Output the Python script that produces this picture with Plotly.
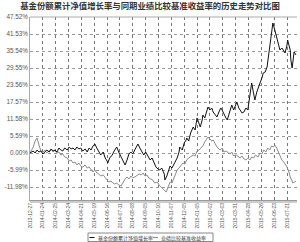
import plotly.graph_objects as go

title = "基金份额累计净值增长率与同期业绩比较基准收益率的历史走势对比图"
fund_name = "基金份额累计净值增长率"
bench_name = "业绩比较基准收益率"

tick_days = [0, 20, 40, 60, 80, 100, 120, 140, 160, 180, 200, 220, 240, 260, 280, 300, 320, 340, 360, 380, 400]
tick_dates = ["2013-12-27", "2014-01-24", "2014-02-25", "2014-03-24", "2014-04-21", "2014-05-19",
              "2014-06-16", "2014-07-11", "2014-08-08", "2014-09-05", "2014-10-10", "2014-11-07",
              "2014-12-05", "2015-01-05", "2015-02-02", "2015-03-03", "2015-03-31", "2015-04-28",
              "2015-05-26", "2015-06-23", "2015-07-21"]

y_tickvals = [-11.98, -5.99, 0.0, 5.99, 11.98, 17.97, 23.96, 29.95, 35.94, 41.93, 47.92]
y_ticktext = ["-11.98%", "-5.99%", "0.00%", "5.59%", "11.58%", "17.57%", "23.56%",
              "29.55%", "35.54%", "41.53%", "47.52%"]

fund_days = [0, 5, 8, 11, 14, 17, 20, 23, 26, 30, 33, 36, 39, 42, 45, 48, 51, 54, 58, 61, 64, 67, 70, 73,
             76, 79, 82, 86, 89, 92, 95, 98, 101, 104, 107, 110, 114, 117, 120, 121, 124, 128, 131, 134,
             135, 138, 142, 145, 148, 151, 154, 157, 160, 163, 166, 168, 171, 174, 177, 180, 184, 187,
             190, 193, 196, 199, 202, 205, 209, 210, 213, 216, 218, 221, 224, 226, 229, 232, 233, 237,
             240, 243, 244, 247, 250, 254, 257, 260, 263, 265, 268, 269, 272, 275, 277, 280, 283, 285,
             288, 291, 294, 297, 299, 302, 305, 307, 310, 313, 314, 317, 321, 322, 325, 328, 330, 333,
             336, 339, 342, 345, 347, 350, 353, 356, 358, 361, 363, 366, 369, 370, 373, 375, 378, 381,
             384, 387, 389, 392, 395, 397, 400, 401, 405, 406, 408, 409, 411, 414]
fund_vals = [0, 0.70, 0, 1.06, 0.35, 0.70, -0.35, 0.35, 1.06, 0.35, 1.41, 0.70, 1.06, 0.35, 1.76, 1.06,
             0.70, 1.76, 1.06, 2.11, 1.41, 1.76, 1.06, 2.11, 1.41, 1.76, 0.70, 1.41, 0.35, 1.76, 1.06,
             2.47, 3.17, 1.76, 0.70, -0.70, 0.35, -1.76, -2.82, -3.52, -1.76, -0.70, 0.70, 1.76, 2.11,
             0.35, -1.41, -2.82, -4.23, -2.47, -0.35, 0.35, -0.35, 1.06, 2.47, 3.17, 1.76, 0.35, -0.70,
             0.35, -1.41, -2.47, -1.76, -3.52, -4.93, -5.64, -5.99, -5.29, -7.40, -9.51, -8.10, -5.99,
             -4.58, -5.29, -3.88, -3.17, -1.76, 0.35, 2.11, 1.06, 3.52, 4.58, 5.29, 4.23, 7.05, 9.16,
             8.10, 12.33, 10.22, 9.16, 11.63, 13.39, 12.33, 15.15, 16.21, 15.15, 15.86, 14.45, 13.39,
             12.69, 14.45, 15.86, 15.15, 13.39, 12.33, 11.63, 14.09, 15.86, 16.91, 15.15, 17.27, 17.97,
             15.86, 14.45, 14.09, 14.45, 15.86, 15.15, 20.44, 24.67, 22.20, 18.68, 21.49, 23.96, 24.67,
             26.43, 28.19, 28.54, 30.30, 32.06, 37.35, 39.82, 45.81, 43.34, 40.87, 38.05, 36.29, 37.00,
             35.59, 35.24, 38.05, 39.82, 36.29, 32.77, 29.95, 32.77, 35.59, 34.53]

bench_days = [0, 5, 8, 11, 14, 17, 20, 23, 26, 30, 33, 36, 39, 42, 45, 48, 51, 54, 58, 61, 64, 67, 70,
              73, 76, 79, 82, 86, 89, 92, 95, 98, 101, 104, 107, 110, 114, 117, 120, 123, 126, 129, 132,
              135, 138, 142, 145, 148, 151, 154, 157, 160, 163, 166, 170, 173, 176, 179, 182, 185, 188,
              191, 194, 198, 201, 204, 207, 210, 212, 215, 218, 221, 224, 227, 229, 232, 235, 238, 241,
              244, 247, 250, 254, 257, 260, 263, 266, 269, 272, 275, 277, 280, 283, 285, 288, 291, 294,
              296, 299, 302, 305, 308, 311, 314, 317, 321, 324, 327, 330, 333, 336, 339, 342, 345, 348,
              351, 355, 358, 361, 364, 367, 370, 373, 376, 379, 381, 384, 387, 390, 392, 395, 398, 400,
              403, 405, 408, 409, 412, 414]
bench_vals = [0, 2.11, 4.23, 5.29, 2.82, 0.70, 0.35, 1.06, 0, 0.70, 1.41, 0.35, 1.06, 0, 0.35, -0.70,
              -0.35, -1.41, -1.76, -2.82, -2.47, -3.52, -3.17, -4.23, -3.52, -4.58, -4.93, -4.23, -5.29,
              -4.93, -5.99, -6.69, -5.99, -7.05, -7.40, -8.10, -7.75, -8.81, -9.51, -10.22, -9.87, -10.57,
              -10.92, -10.57, -11.28, -11.63, -10.22, -9.16, -8.46, -9.16, -8.10, -8.81, -8.46, -8.10,
              -7.40, -7.75, -7.05, -8.10, -7.75, -8.81, -9.16, -9.51, -10.57, -10.22, -11.28, -11.98,
              -12.33, -13.39, -13.74, -11.98, -10.22, -10.57, -8.81, -6.69, -5.99, -5.29, -4.58, -3.52,
              -3.88, -2.47, -1.76, -1.41, -0.70, -1.06, 0.70, 1.06, 1.76, 2.47, 3.88, 4.93, 5.64, 4.93,
              4.23, 4.58, 3.17, 2.11, 1.41, 1.06, 1.76, 0.35, 0.70, 0, -0.35, 0.35, -1.06, -0.70, -1.41,
              -1.76, -1.06, -2.11, -2.47, -1.76, -2.47, -1.41, -1.76, -0.70, -1.41, 0, -0.35, 1.06, 0.35,
              1.76, 1.06, 2.47, 2.11, 2.82, 1.76, 0.35, -1.41, -2.47, -3.17, -4.23, -4.93, -6.69, -8.46,
              -9.87, -10.57, -10.22, -9.87]

W, H = 300, 242
L, R, T, B = 30, 297, 17, 200
pw, ph = R - L, B - T


def px(x):
    return (x - L) / pw


def py(y):
    return (B - y) / ph


fig = go.Figure()
fig.add_trace(go.Scatter(x=bench_days, y=bench_vals, mode="lines", name=bench_name,
                         line=dict(color="#8a8a8a", width=1), showlegend=False))
fig.add_trace(go.Scatter(x=fund_days, y=fund_vals, mode="lines", name=fund_name,
                         line=dict(color="#111111", width=1), showlegend=False))

shapes = [
    dict(type="line", xref="paper", yref="paper", x0=0, x1=1, y0=1, y1=1,
         line=dict(color="#aaaaaa", width=1)),
    dict(type="line", xref="paper", yref="paper", x0=0, x1=1, y0=py(B + 2), y1=py(B + 2),
         line=dict(color="#999999", width=1)),
    # legend box
    dict(type="rect", xref="paper", yref="paper", x0=px(88), x1=px(213), y0=py(233), y1=py(241.5),
         line=dict(color="#888888", width=1), fillcolor="white"),
    dict(type="line", xref="paper", yref="paper", x0=px(89.5), x1=px(94.5), y0=py(237.5), y1=py(237.5),
         line=dict(color="#111111", width=1)),
    dict(type="line", xref="paper", yref="paper", x0=px(153), x1=px(158), y0=py(237.5), y1=py(237.5),
         line=dict(color="#8a8a8a", width=1)),
]

annotations = [
    dict(text=fund_name, xref="paper", yref="paper", x=px(95.5), y=py(237.5), xanchor="left",
         yanchor="middle", showarrow=False,
         font=dict(family="Noto Sans CJK SC", size=5, color="#333333")),
    dict(text=bench_name, xref="paper", yref="paper", x=px(159), y=py(237.5), xanchor="left",
         yanchor="middle", showarrow=False,
         font=dict(family="Noto Sans CJK SC", size=5, color="#333333")),
]

fig.update_layout(
    width=W, height=H,
    margin=dict(l=L, r=W - R, t=T, b=H - B, pad=0),
    paper_bgcolor="white", plot_bgcolor="white",
    title=dict(text="<b>" + title + "</b>", x=0.5, xanchor="center", y=1 - 6.5 / H, yanchor="middle",
               font=dict(family="Noto Sans CJK SC", size=8.4, color="#333333")),
    shapes=shapes, annotations=annotations,
    showlegend=False,
)
fig.update_xaxes(range=[0, pw * 20 / 12.85], tickvals=tick_days, ticktext=tick_dates, tickangle=-90,
                 showgrid=True, gridcolor="#777777", griddash="dot", gridwidth=1,
                 showline=True, linecolor="#999999", linewidth=1, ticks="", zeroline=False,
                 tickfont=dict(family="Liberation Sans", size=5, color="#555555"))
fig.update_yaxes(range=[-16.56, 47.92], tickvals=y_tickvals, ticktext=y_ticktext,
                 showgrid=True, gridcolor="#999999", griddash="dot", gridwidth=1,
                 showline=True, linecolor="#aaaaaa", linewidth=1, ticks="", zeroline=False,
                 tickfont=dict(family="Liberation Sans", size=6.3, color="#555555"))

fig.write_html("out.html")
